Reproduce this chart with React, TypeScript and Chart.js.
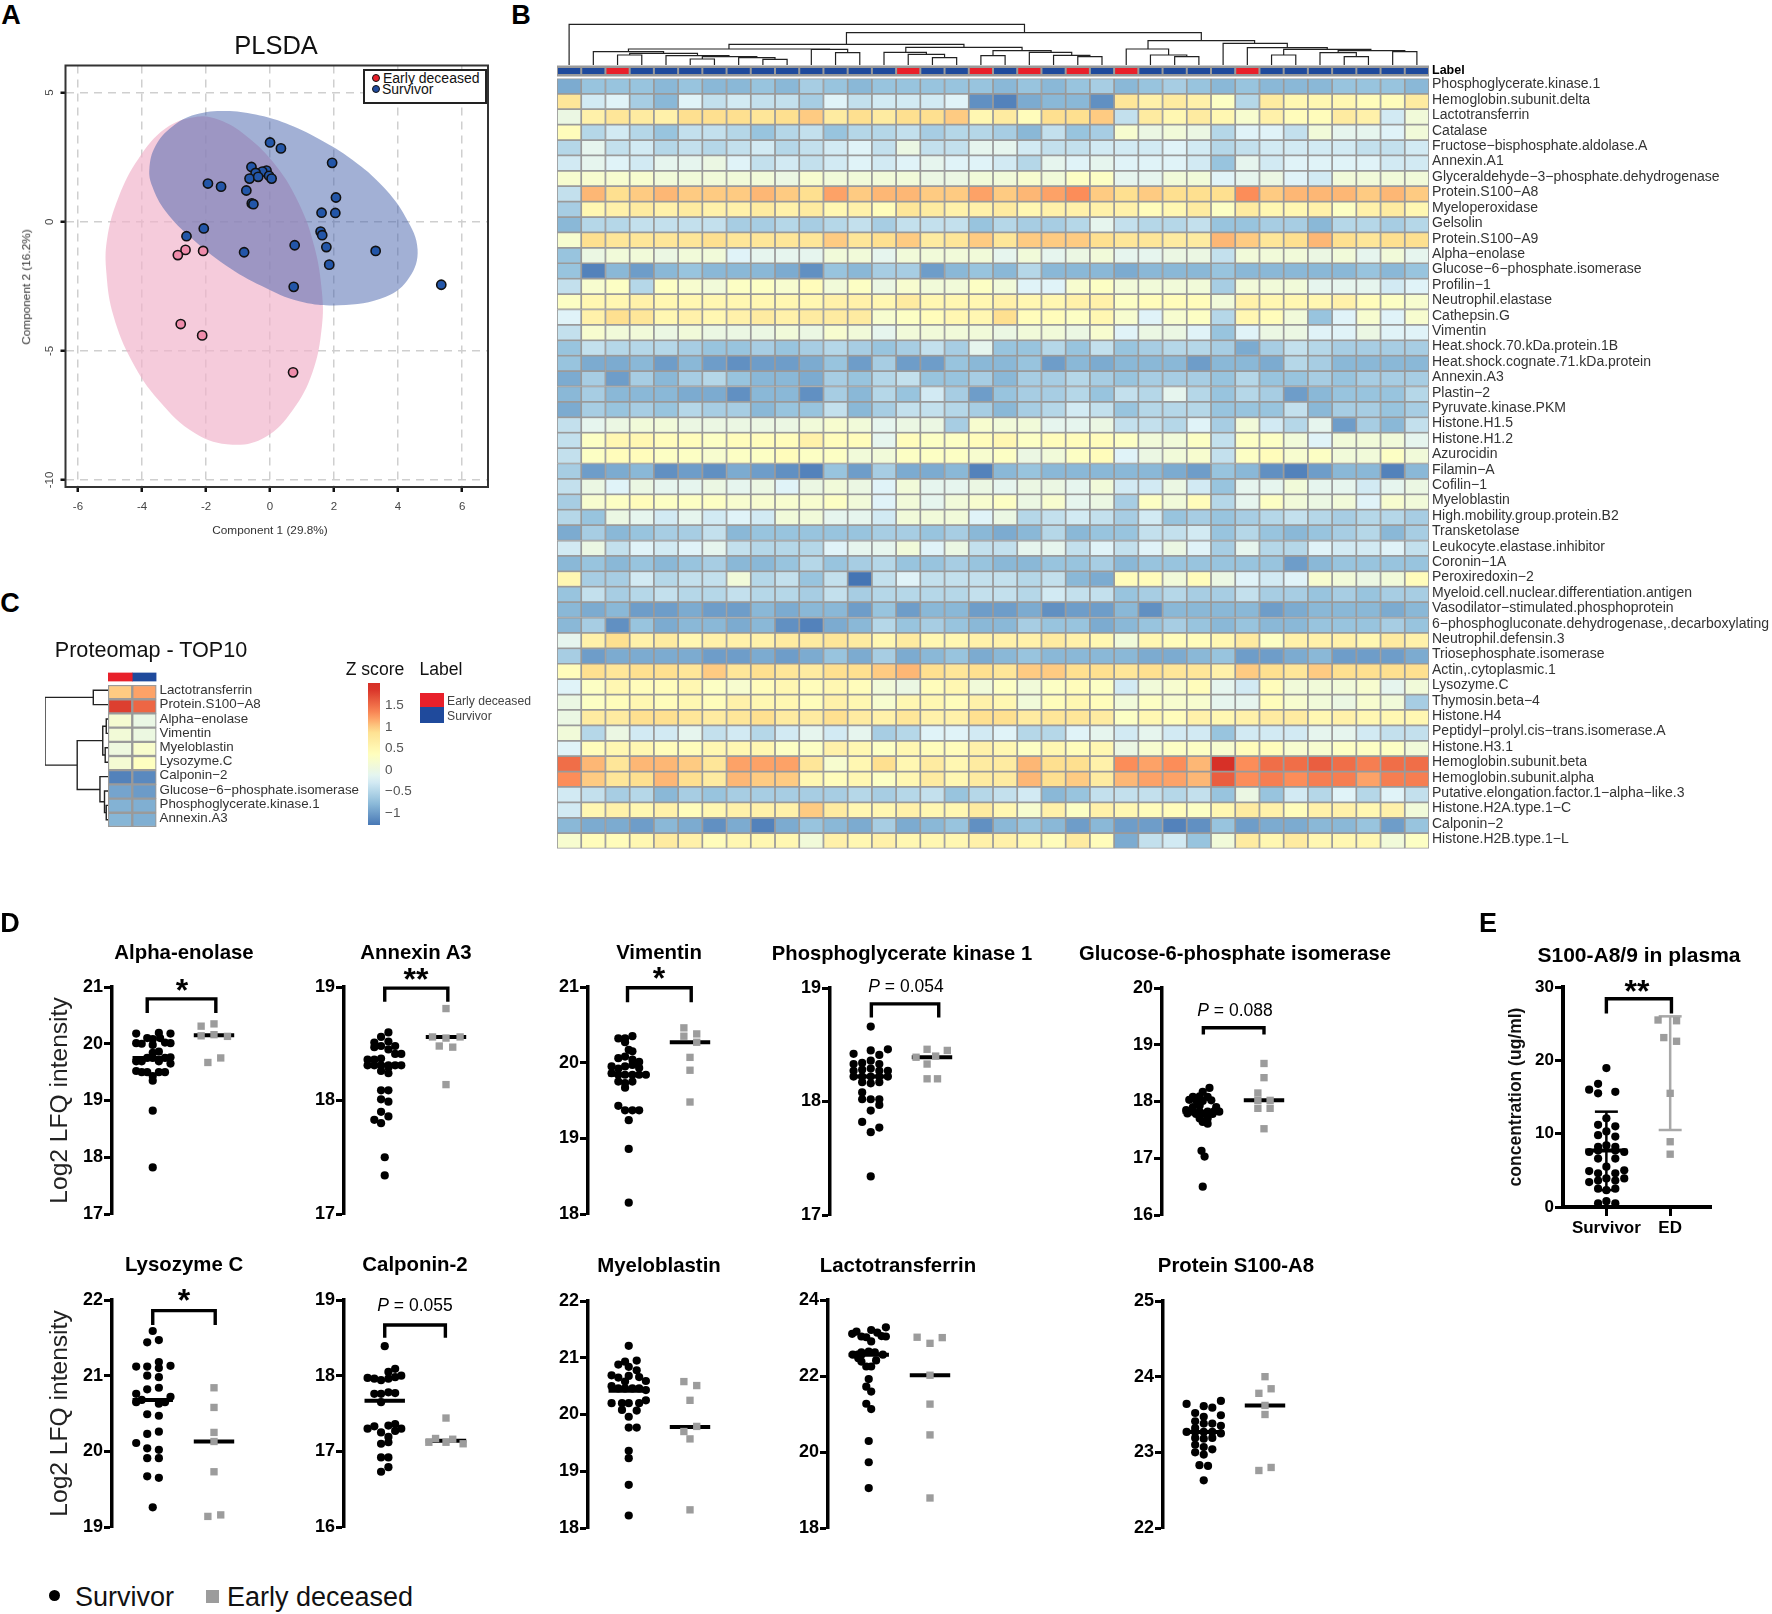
import React, { useEffect, useRef } from "react";
import { Chart, registerables } from "chart.js";

Chart.register(...registerables);
Chart.defaults.font.family = "'Liberation Sans', Arial, sans-serif";
Chart.defaults.animation = false as any;

// ---------- Panel A: PLS-DA ----------
const plsdaSurvivor = [[0, 3.07], [0.34, 2.84], [1.94, 2.28], [-0.58, 2.12], [-0.11, 1.98], [-0.24, 1.94], [-0.45, 1.89], [-0.03, 1.78], [-0.64, 1.67], [-0.37, 1.74], [0.05, 1.67], [-1.94, 1.48], [-1.53, 1.36], [-0.74, 1.21], [2.06, 0.94], [-0.57, 0.71], [-0.52, 0.68], [1.61, 0.35], [2.04, 0.34], [-2.07, -0.26], [1.58, -0.38], [1.63, -0.52], [-2.61, -0.56], [0.77, -0.91], [1.76, -0.98], [-0.81, -1.18], [3.3, -1.13], [1.85, -1.66], [0.74, -2.52], [5.35, -2.44]];
const plsdaEarly = [[-2.64, -1.09], [-2.88, -1.29], [-2.09, -1.13], [-2.79, -3.96], [-2.12, -4.4], [0.72, -5.83]];
const ellipseSurvivor = [[-3.77, 2.05], [-3.58, 2.93], [-3.06, 3.68], [-2.33, 4.15], [-1.39, 4.29], [-0.45, 4.15], [0.49, 3.81], [1.53, 3.2], [2.58, 2.39], [3.52, 1.37], [4.25, 0.15], [4.61, -1.07], [4.35, -2.16], [3.62, -2.9], [2.16, -3.23], [0.91, -3.08], [-0.24, -2.5], [-1.39, -1.68], [-2.43, -0.66], [-3.27, 0.42], [-3.68, 1.37], [-3.77, 2.05]];
const ellipseEarly = [[-2.33, 4.06], [-3.27, 3.61], [-4.1, 2.46], [-4.73, 0.96], [-5.09, -0.66], [-5.11, -2.02], [-4.89, -3.65], [-4.31, -5.41], [-3.48, -6.91], [-2.33, -8.2], [-1.18, -8.63], [-0.14, -8.33], [0.7, -7.31], [1.33, -5.82], [1.62, -4.06], [1.62, -2.7], [1.38, -0.94], [0.91, 0.69], [0.18, 2.18], [-0.76, 3.34], [-1.6, 3.95], [-2.33, 4.06]];
const plsdaXTicks = [-6, -4, -2, 0, 2, 4, 6];
const plsdaYTicks = [-10, -5, 0, 5];

// ---------- Panel B: heat map (z-score x 10) ----------
const sampleGroups = ["S", "S", "E", "S", "S", "S", "S", "S", "S", "S", "S", "S", "S", "S", "E", "S", "S", "E", "S", "E", "S", "E", "S", "E", "S", "S", "S", "S", "E", "S", "S", "S", "S", "S", "S", "S"];
const proteinNames = ["Phosphoglycerate.kinase.1", "Hemoglobin.subunit.delta", "Lactotransferrin", "Catalase", "Fructose−bisphosphate.aldolase.A", "Annexin.A1", "Glyceraldehyde−3−phosphate.dehydrogenase", "Protein.S100−A8", "Myeloperoxidase", "Gelsolin", "Protein.S100−A9", "Alpha−enolase", "Glucose−6−phosphate.isomerase", "Profilin−1", "Neutrophil.elastase", "Cathepsin.G", "Vimentin", "Heat.shock.70.kDa.protein.1B", "Heat.shock.cognate.71.kDa.protein", "Annexin.A3", "Plastin−2", "Pyruvate.kinase.PKM", "Histone.H1.5", "Histone.H1.2", "Azurocidin", "Filamin−A", "Cofilin−1", "Myeloblastin", "High.mobility.group.protein.B2", "Transketolase", "Leukocyte.elastase.inhibitor", "Coronin−1A", "Peroxiredoxin−2", "Myeloid.cell.nuclear.differentiation.antigen", "Vasodilator−stimulated.phosphoprotein", "6−phosphogluconate.dehydrogenase,.decarboxylating", "Neutrophil.defensin.3", "Triosephosphate.isomerase", "Actin,.cytoplasmic.1", "Lysozyme.C", "Thymosin.beta−4", "Histone.H4", "Peptidyl−prolyl.cis−trans.isomerase.A", "Histone.H3.1", "Hemoglobin.subunit.beta", "Hemoglobin.subunit.alpha", "Putative.elongation.factor.1−alpha−like.3", "Histone.H2A.type.1−C", "Calponin−2", "Histone.H2B.type.1−L"];
const zPGK1 = [-9, -7, -7, -7, -8, -7, -8, -8, -7, -8, -6, -7, -8, -7, -7, -7, -7, -7, -8, -7, -8, -7, -6, -8, -7, -6, -7, -8, -7, -8, -8, -8, -7, -7, -7, -8];
const zHBD = [8, -3, -2, -6, -8, -2, -4, -3, -4, -4, -6, -2, -4, -3, -3, -3, -2, -11, -12, -9, -8, -8, -11, 8, 6, 7, 6, 3, -5, 7, 5, 5, 5, 4, 4, 7];
const zLTF = [0, 6, 8, 7, 6, 9, 9, 9, 8, 9, 10, 7, 9, 7, 9, 9, 10, 5, 7, 4, 9, 9, 10, -4, 7, 5, 7, 5, 2, 6, 4, 4, 7, 6, -3, 1];
const zCAT = [4, -5, -3, -5, -7, -4, -4, -5, -7, -5, -4, -7, -5, -5, -4, -6, -5, -5, -6, -8, -4, -7, -6, 2, 0, 1, 0, -5, -2, -2, -4, 1, -1, -1, -2, 1];
const zALDOA = [-5, -1, -4, -3, -5, -4, -5, -4, -3, -5, -4, -3, -2, -4, 0, -4, -4, -1, -1, -3, -4, -4, -3, -3, -3, -2, -3, -5, -4, -3, -3, -3, -3, -4, -4, -3];
const zANXA1 = [-3, -1, -2, -3, -1, -1, 0, -2, -4, -3, -4, -3, -2, -3, -2, -1, -2, -2, -3, -5, -1, -2, -1, -2, -2, -2, -3, -7, -1, -3, -2, -2, -2, -2, -3, -3];
const zGAPDH = [2, 2, 2, 2, 1, 1, 1, 1, 1, 0, 2, 1, 1, 1, 1, 0, 0, 1, 1, 2, 1, 3, 3, -1, -1, 1, 1, -2, -1, 0, -2, -3, 1, 1, 1, 1];
const zS100A8 = [-4, 11, 9, 10, 11, 10, 10, 10, 11, 10, 9, 12, 10, 11, 11, 10, 10, 12, 10, 11, 12, 13, 10, 9, 10, 9, 9, 9, 13, 10, 11, 11, 11, 10, 11, 10];
const zMPO = [-6, 5, 6, 7, 6, 7, 6, 6, 7, 6, 7, 5, 6, 4, 8, 7, 6, 6, 7, 5, 6, 6, 6, 6, 4, 5, 7, 3, 7, 5, 5, 6, 3, 6, 7, 5];
const zGSN = [-8, -5, -5, -4, -4, -4, -4, -6, -6, -5, -6, -5, -4, -6, -4, -4, -4, -7, -5, -6, -6, -5, -1, -4, -5, -5, -4, -7, -7, -6, -6, -8, -5, -5, -6, -5];
const zS100A9 = [2, 9, 8, 8, 8, 8, 9, 8, 8, 8, 8, 10, 8, 9, 10, 7, 8, 10, 8, 10, 10, 10, 9, 8, 8, 7, 7, 11, 10, 8, 9, 11, 9, 8, 9, 9];
const zENO = [-7, 0, 1, 1, 0, 1, 1, -2, -1, -1, -1, 1, 1, -1, 1, 1, 1, 1, -1, 1, -1, 0, 1, -1, -1, 0, 0, -4, 1, 1, 1, 0, 1, -1, 1, -1];
const zG6PI = [-7, -12, -8, -10, -8, -7, -8, -8, -8, -9, -11, -7, -8, -6, -6, -10, -8, -7, -8, -5, -8, -8, -8, -9, -8, -8, -8, -7, -8, -8, -8, -8, -8, -7, -8, -7];
const zPFN1 = [-4, 2, 3, -5, 3, 2, 1, 3, 3, 2, 4, 1, 3, 0, 2, 1, 1, 3, 1, -2, -2, 2, 3, 1, 1, 1, 1, -6, 1, 1, 1, -1, -1, -1, -3, -2];
const zELANE = [3, 5, 5, 6, 5, 5, 5, 5, 5, 5, 5, 6, 6, 5, 7, 5, 5, 5, 6, 5, 5, 6, 6, 3, 4, 4, 4, 1, 6, 5, 5, 5, 6, 4, 3, 2];
const zCTSG = [-2, 6, 9, 8, 5, 6, 5, 6, 7, 6, 7, 7, 7, 2, 3, 4, 5, 5, 9, 4, 4, 3, 5, 2, -2, 2, 3, -5, 5, 4, 1, -7, -2, 2, -2, 2];
const zVIM = [-4, 2, 1, 1, 0, 1, 0, 0, 0, 1, 0, 2, 1, -1, 1, 1, 1, 1, 0, 1, 1, 0, 2, -2, 0, 0, -2, -7, -2, 0, 0, -2, -2, 0, -2, -2];
const zHSP70 = [-7, -4, -5, -5, -5, -6, -7, -7, -6, -7, -6, -5, -6, -7, -6, -4, -6, -1, -7, -7, -5, -7, -4, -7, -6, -5, -5, -6, -9, -6, -4, -5, -6, -6, -6, -6];
const zHSC71 = [-7, -9, -9, -8, -10, -8, -10, -11, -10, -10, -9, -7, -10, -6, -10, -10, -7, -8, -8, -7, -10, -8, -9, -8, -8, -8, -10, -8, -8, -9, -5, -6, -8, -8, -8, -8];
const zANXA3 = [-9, -6, -10, -6, -8, -6, -5, -7, -8, -8, -9, -6, -7, -5, -4, -7, -7, -6, -8, -6, -6, -5, -6, -7, -6, -6, -6, -7, -5, -7, -7, -6, -7, -6, -6, -6];
const zPLS2 = [-8, -6, -8, -8, -8, -9, -9, -11, -8, -8, -11, -6, -8, -5, -7, -3, -6, -10, -7, -6, -6, -5, -7, -4, -5, -1, -5, -7, -5, -6, -10, -8, -7, -7, -7, -5];
const zPKM = [-9, -6, -7, -6, -7, -5, -6, -6, -8, -7, -7, -4, -8, -6, -4, -4, -5, -6, -8, -6, -5, -3, -4, -7, -5, -5, -5, -7, -7, -7, -4, -8, -6, -6, -7, -6];
const zH15 = [-4, -1, 0, 1, 1, 0, 0, 0, 0, 0, 1, 2, 1, -1, 0, 0, -6, 2, 1, 1, -1, -1, 0, -4, -4, -5, -2, -6, 1, -3, -5, -1, -10, -6, -8, -4];
const zH12 = [-4, 3, 5, 5, 4, 4, 3, 4, 4, 4, 6, 4, 4, -1, 4, 3, 3, 4, 5, 3, 4, 4, 4, 3, 1, 1, 3, -4, 3, 3, 1, -2, 1, 1, 1, -1];
const zAZU = [-4, 3, 4, 4, 3, 3, 2, 3, 3, 4, 3, 3, 1, 1, 3, 3, 3, 2, 3, 0, 1, 3, 4, -2, 0, 1, 2, -4, 3, 4, 2, 3, 1, 1, 3, 1];
const zFLNA = [-6, -10, -9, -8, -11, -10, -11, -9, -10, -11, -12, -7, -10, -6, -9, -9, -8, -12, -8, -7, -8, -8, -8, -8, -8, -9, -10, -7, -8, -11, -12, -10, -8, -8, -12, -8];
const zCFL1 = [-4, 0, -2, 0, -1, -1, 0, -1, 0, -2, 0, 1, 0, -2, 1, -1, -1, 0, -1, 0, 0, -1, 1, -3, -3, 0, -3, -7, -1, -1, 1, -1, -1, -3, -1, 0];
const zMYEB = [-6, 2, 3, 4, 3, 3, 3, 2, 2, 2, 2, 3, 1, -2, 1, -1, 1, 2, 3, 0, 2, -1, 0, -6, 3, 1, 4, -5, -1, 3, 1, 0, 1, -2, 2, 1];
const zHMGB2 = [-5, -7, 0, -1, -3, -1, -3, -2, -3, 1, 1, -1, -1, -3, 1, 1, 1, -2, 0, -5, -4, -3, -4, -6, -3, -7, -6, -7, -6, -5, -4, -5, -6, -5, -5, -6];
const zTKT = [-9, -6, -8, -7, -6, -6, -4, -8, -7, -7, -7, -7, -7, -6, -6, -7, -6, -8, -9, -8, -5, -8, -7, -7, -4, -4, -3, -7, -5, -7, -8, -7, -6, -5, -8, -6];
const zLEI = [-3, 0, -4, -2, -3, -2, -1, -4, -5, -5, -5, -2, -1, -1, 1, -2, 0, -4, -4, -1, -1, -4, -2, -4, -2, 0, -2, -6, -1, -5, -5, -2, -3, -3, -2, -4];
const zCORO = [-8, -7, -8, -7, -8, -7, -6, -8, -8, -7, -5, -7, -6, -5, -7, -7, -6, -7, -8, -8, -7, -7, -6, -8, -7, -7, -7, -7, -7, -7, -10, -8, -7, -7, -7, -7];
const zPRDX2 = [5, -6, -6, -3, -5, -4, -4, 1, -5, -4, -7, -4, -13, -4, -2, -4, -4, -4, -4, -5, -4, -8, -9, 4, 4, 1, 4, 0, -2, -3, -2, 2, 1, 0, 1, 4];
const zMNDA = [-7, -4, -6, -5, -4, -5, -5, -4, -5, -5, -6, -4, -6, -5, -5, -5, -5, -4, -4, -5, -3, -4, -4, -7, -6, -5, -6, -6, -4, -6, -6, -7, -6, -7, -6, -6];
const zVASP = [-8, -9, -8, -10, -10, -9, -10, -10, -8, -9, -8, -8, -10, -7, -10, -8, -8, -10, -10, -9, -11, -10, -10, -8, -11, -8, -8, -8, -8, -10, -9, -8, -8, -8, -9, -8];
const zPGD = [-8, -6, -11, -7, -9, -8, -8, -9, -8, -11, -12, -9, -8, -5, -7, -6, -7, -8, -8, -6, -7, -7, -9, -8, -7, -6, -7, -8, -7, -8, -8, -7, -7, -7, -6, -7];
const zDEF3 = [-1, 6, 9, 6, 7, 5, 6, 6, 6, 7, 7, 8, 7, 5, 7, 5, 5, 6, 6, 6, 7, 6, 5, 1, 5, 4, 4, 5, 7, 3, 6, 6, 6, 5, 7, 6];
const zTPI = [-6, -10, -9, -9, -9, -9, -10, -10, -9, -10, -9, -7, -9, -6, -9, -8, -7, -9, -8, -7, -8, -8, -8, -8, -9, -9, -8, -7, -10, -10, -9, -8, -10, -10, -10, -9];
const zACTB = [4, 9, 8, 9, 9, 8, 10, 8, 9, 8, 7, 9, 9, 10, 11, 9, 8, 9, 8, 10, 10, 9, 9, 8, 9, 8, 8, 6, 10, 9, 8, 10, 9, 9, 9, 9];
const zLYZ = [-2, 3, 5, 4, 4, 5, 3, 2, 4, 5, 4, 5, 4, 1, 0, 4, 5, 1, 3, 1, 3, 4, 3, -3, 1, 2, 4, -1, -3, 4, 1, 1, 1, 2, -1, 1];
const zTMSB4 = [0, 3, 4, 5, 4, 5, 4, 6, 5, 5, 4, 6, 5, 2, 5, 5, 4, 6, 5, 1, 4, 5, 4, 1, 3, 2, 2, -1, -1, 4, 2, 1, 0, 2, 1, -6];
const zH4 = [0, 7, 7, 9, 9, 8, 7, 8, 9, 7, 7, 9, 7, 6, 8, 6, 6, 9, 9, 7, 8, 8, 7, 3, 5, 4, 6, 5, 6, 7, 7, 5, 6, 5, 5, 5];
const zPPIA = [1, -5, 0, -3, -3, -1, -4, -3, -5, -3, -1, -3, -1, -6, -5, -2, -2, -3, -2, -5, -5, -2, -1, -3, -1, -3, -3, -7, -3, -3, -3, -1, -1, -3, -4, -4];
const zH31 = [-2, 4, 5, 5, 4, 4, 5, 5, 5, 3, 3, 6, 5, 3, 5, 4, 4, 6, 5, 3, 5, 4, 5, 0, 2, 3, 3, 2, 4, 4, 2, 2, 3, 3, 3, 1];
const zHBB = [15, 11, 8, 11, 11, 10, 8, 12, 12, 12, 8, 2, 5, 9, 5, 7, 5, 7, 7, 11, 9, 9, 6, 13, 12, 13, 11, 19, 13, 15, 15, 16, 15, 14, 15, 15];
const zHBA = [13, 10, 8, 9, 11, 9, 7, 11, 10, 10, 5, 4, 5, 3, 5, 7, 5, 7, 7, 11, 9, 10, 7, 11, 12, 12, 11, 16, 13, 14, 13, 14, 14, 12, 14, 14];
const zEEF1 = [-3, -4, -6, -5, -8, -6, -7, -6, -6, -6, -6, -6, -5, -6, -5, -4, -7, -5, -4, -3, -8, -7, -4, -4, -4, -5, -4, -7, 0, -7, -3, -5, -2, -5, -2, -4];
const zH2A = [-3, 5, 6, 5, 6, 4, 5, 6, 6, 6, 10, 7, 5, 5, 6, 5, 5, 7, 5, 2, 6, 3, 6, 5, 4, 4, 3, 5, 7, 6, 4, 6, 6, 5, 6, 1];
const zCNN2 = [-8, -9, -9, -10, -8, -9, -11, -9, -12, -9, -7, -8, -9, -6, -9, -8, -7, -11, -8, -7, -8, -10, -8, -10, -10, -12, -11, -7, -10, -9, -9, -8, -8, -7, -10, -7];
const zH2B = [2, 4, 4, 5, 7, 6, 4, 5, 5, 5, 1, 6, 5, 6, 5, 5, 5, 6, 6, 5, 4, 7, 4, -9, -4, -3, -7, 1, 7, 5, 7, 5, 5, 5, 1, 3];
const heatRows = [zPGK1, zHBD, zLTF, zCAT, zALDOA, zANXA1, zGAPDH, zS100A8, zMPO, zGSN, zS100A9, zENO, zG6PI, zPFN1, zELANE, zCTSG, zVIM, zHSP70, zHSC71, zANXA3, zPLS2, zPKM, zH15, zH12, zAZU, zFLNA, zCFL1, zMYEB, zHMGB2, zTKT, zLEI, zCORO, zPRDX2, zMNDA, zVASP, zPGD, zDEF3, zTPI, zACTB, zLYZ, zTMSB4, zH4, zPPIA, zH31, zHBB, zHBA, zEEF1, zH2A, zCNN2, zH2B];
// merges: left position, left height, right position, right height, merge height
const sampleMerges = [[9, 0, 10, 0, 17], [8, 0, 9.5, 17, 22], [6, 0, 7, 0, 18], [6.5, 18, 8.75, 22, 25], [5, 0, 7.6, 25, 28], [3, 0, 4, 0, 30], [3.5, 30, 6.3, 28, 35], [2, 0, 4.9, 35, 40], [12, 0, 13, 0, 37], [11, 0, 12.5, 37, 47], [3.45, 40, 11.75, 47, 48], [16, 0, 17, 0, 22], [15, 0, 16.5, 22, 32], [14, 0, 15.75, 32, 38], [22, 0, 23, 0, 25], [21, 0, 22.5, 25, 29], [20, 0, 21.75, 29, 38], [18, 0, 19, 0, 28], [18.5, 28, 20.9, 38, 43], [14.9, 38, 19.7, 43, 53], [7.6, 48, 17.3, 53, 62], [26, 0, 27, 0, 25], [25, 0, 26.5, 25, 30], [24, 0, 25.75, 30, 48], [35, 0, 36, 0, 40], [33, 0, 34, 0, 25], [32, 0, 33.5, 25, 37], [32.75, 37, 35.5, 40, 43], [30, 0, 31, 0, 30], [30.5, 30, 34.1, 43, 47], [29, 0, 32.3, 47, 52], [28, 0, 30.65, 52, 65], [24.9, 48, 29.3, 65, 73], [12.45, 62, 27.1, 73, 97], [1, 0, 19.8, 97, 122]];

// ---------- Panel C ----------
const top10Names = ["Lactotransferrin", "Protein.S100−A8", "Alpha−enolase", "Vimentin", "Myeloblastin", "Lysozyme.C", "Calponin−2", "Glucose−6−phosphate.isomerase", "Phosphoglycerate.kinase.1", "Annexin.A3"];
const top10Early = [1.0, 1.8, 0.18, 0.12, 0.04, 0.16, -1.2, -0.95, -0.85, -0.82];
const top10Survivor = [1.2, 1.55, -0.02, 0.02, 0.22, 0.34, -1.15, -1.02, -0.87, -0.87];
const top10Merges = [[1, 0, 2, 0, 42], [3, 0, 4, 0, 5], [5, 0, 6, 0, 8], [3.5, 5, 5.5, 8, 15], [9, 0, 10, 0, 5], [8, 0, 9.5, 5, 10], [7, 0, 8.75, 10, 23], [4.5, 15, 7.9, 23, 88], [1.5, 42, 6.2, 88, 180]];
const legendTicks = [-1, -0.5, 0, 0.5, 1, 1.5];

// ---------- Panel D: [horizontal offset, log2 LFQ] ----------
const enoSurvivor = [[-.27, 20.18], [.1, 20.19], [.29, 20.18], [-.09, 20.1], [0, 20.08], [.12, 20.1], [-.27, 20.01], [-.18, 20], [0, 19.98], [.2, 20.02], [.29, 20.01], [0, 19.84], [.1, 19.86], [-.09, 19.75], [0, 19.75], [.2, 19.75], [.29, 19.76], [-.27, 19.69], [-.18, 19.69], [.1, 19.69], [.29, 19.65], [-.27, 19.52], [-.18, 19.5], [-.09, 19.5], [.1, 19.5], [.2, 19.5], [0, 19.43], [0, 19.35], [0, 18.82], [0, 17.82]];
const enoEarly = [[-.21, 20.31], [0, 20.35], [-.21, 20.14], [0, 20.16], [.22, 20.13], [.11, 19.75], [-.1, 19.67]];
const anxSurvivor = [[.06, 18.6], [-.06, 18.56], [-.17, 18.51], [.06, 18.52], [-.17, 18.47], [-.06, 18.48], [.17, 18.48], [.06, 18.45], [.17, 18.41], [.27, 18.41], [-.28, 18.36], [-.17, 18.36], [-.06, 18.37], [-.28, 18.31], [-.17, 18.31], [-.06, 18.31], [.06, 18.31], [.17, 18.31], [.27, 18.31], [.06, 18.29], [-.06, 18.26], [.06, 18.24], [-.06, 18.09], [.06, 18.09], [-.06, 18.01], [.06, 17.99], [-.06, 17.9], [.06, 17.86], [-.17, 17.83], [-.06, 17.8], [0, 17.5], [0, 17.34]];
const anxEarly = [[-.22, 18.56], [0, 18.55], [.23, 18.56], [-.11, 18.48], [.11, 18.47], [0, 18.14], [0, 18.81]];
const vimSurvivor = [[.06, 20.35], [-.17, 20.32], [-.06, 20.32], [-.06, 20.27], [0, 20.17], [.06, 20.15], [-.06, 20.08], [-.17, 20.06], [.06, 20.04], [.17, 20.01], [.06, 19.97], [-.28, 19.95], [-.06, 19.95], [.17, 19.93], [-.17, 19.92], [-.28, 19.86], [-.17, 19.84], [-.06, 19.84], [.06, 19.84], [.17, 19.84], [.28, 19.84], [-.17, 19.75], [-.06, 19.73], [.06, 19.75], [-.06, 19.67], [-.17, 19.43], [-.06, 19.37], [.06, 19.37], [.17, 19.37], [0, 19.24], [0, 18.86], [0, 18.15]];
const vimEarly = [[-.1, 20.46], [.11, 20.38], [-.1, 20.35], [.11, 20.27], [0, 20.07], [0, 19.9], [0, 19.48]];
const pgkSurvivor = [[0, 18.66], [.28, 18.46], [0, 18.45], [-.28, 18.42], [.14, 18.41], [-.28, 18.33], [-.14, 18.34], [0, 18.36], [.14, 18.33], [-.28, 18.27], [-.14, 18.28], [0, 18.29], [.14, 18.27], [.28, 18.27], [-.28, 18.22], [-.14, 18.22], [0, 18.22], [.14, 18.22], [.28, 18.22], [-.14, 18.17], [0, 18.16], [.14, 18.17], [-.14, 18.08], [-.14, 18.02], [0, 18.02], [.14, 18.02], [.14, 17.97], [0, 17.92], [-.14, 17.82], [.14, 17.77], [0, 17.73], [0, 17.34]];
const pgkEarly = [[-.08, 18.46], [.25, 18.45], [-.26, 18.39], [.06, 18.4], [-.08, 18.33], [-.08, 18.2], [.09, 18.2]];
const g6piSurvivor = [[.11, 18.24], [0, 18.17], [-.16, 18.08], [-.05, 18.09], [.08, 18.08], [-.22, 18.03], [-.11, 18.02], [0, 18.01], [.14, 18.02], [-.05, 17.93], [-.16, 17.9], [.22, 17.9], [-.27, 17.85], [-.16, 17.82], [-.05, 17.82], [.08, 17.82], [.18, 17.82], [.27, 17.82], [-.25, 17.79], [-.11, 17.78], [.03, 17.78], [.16, 17.78], [-.05, 17.7], [.08, 17.7], [0, 17.64], [.08, 17.61], [-.02, 17.13], [.03, 17.03], [0, 16.5]];
const g6piEarly = [[0, 18.67], [0, 18.42], [-.1, 18.15], [-.1, 18.02], [.1, 18.02], [-.1, 17.88], [.1, 17.88], [0, 17.52]];
const lyzSurvivor = [[0, 21.59], [-.09, 21.44], [.1, 21.47], [-.27, 21.12], [-.09, 21.12], [.1, 21.18], [.29, 21.13], [.1, 21.1], [-.09, 21], [.1, 20.98], [-.09, 20.82], [.1, 20.84], [-.27, 20.76], [.29, 20.72], [-.18, 20.68], [.2, 20.65], [-.27, 20.65], [.1, 20.63], [-.09, 20.49], [.1, 20.47], [.1, 20.26], [-.09, 20.23], [-.27, 20.11], [-.09, 20.04], [.1, 20.02], [-.09, 19.91], [.1, 19.91], [-.09, 19.67], [.1, 19.65], [0, 19.26]];
const lyzEarly = [[0, 20.84], [0, 20.58], [0, 20.25], [0, 20.13], [0, 19.73], [.11, 19.16], [-.1, 19.14]];
const cnnSurvivor = [[0, 18.39], [.17, 18.09], [.06, 18.05], [.27, 18], [-.28, 17.97], [-.17, 17.96], [-.06, 17.94], [.06, 17.96], [.17, 17.98], [-.17, 17.76], [-.06, 17.76], [.06, 17.78], [.17, 17.77], [-.06, 17.65], [-.28, 17.3], [-.17, 17.33], [.06, 17.34], [.17, 17.36], [.27, 17.3], [-.06, 17.25], [.17, 17.27], [.06, 17.19], [-.06, 17.1], [.06, 17.12], [-.06, 16.92], [.06, 16.92], [.06, 16.79], [-.06, 16.73]];
const cnnEarly = [[0, 17.44], [-.17, 17.17], [.11, 17.16], [-.28, 17.12], [0, 17.12], [.28, 17.1]];
const mpoSurvivor = [[0, 21.21], [-.06, 20.93], [.13, 20.95], [-.17, 20.88], [0, 20.84], [.13, 20.78], [-.28, 20.69], [-.17, 20.65], [0, 20.68], [.17, 20.66], [-.06, 20.58], [.28, 20.59], [-.28, 20.5], [-.17, 20.46], [-.06, 20.46], [.06, 20.46], [.17, 20.46], [.28, 20.43], [-.28, 20.2], [-.11, 20.2], [0, 20.2], [.17, 20.2], [.28, 20.25], [-.11, 20.08], [.13, 20.07], [0, 19.96], [0, 19.77], [.13, 19.77], [0, 19.36], [0, 19.23], [0, 18.76], [0, 18.22]];
const mpoEarly = [[-.1, 20.58], [.11, 20.51], [0, 20.25], [.11, 19.79], [-.1, 19.7], [0, 19.57], [0, 18.32]];
const ltfSurvivor = [[.28, 23.28], [-.2, 23.17], [-.27, 23.11], [.04, 23.21], [.14, 23.14], [-.12, 23.04], [-.04, 23.02], [.21, 23.05], [.28, 23.04], [.04, 22.91], [-.12, 22.62], [0, 22.64], [.1, 22.62], [-.26, 22.56], [-.18, 22.56], [-.12, 22.56], [.23, 22.56], [-.17, 22.47], [.12, 22.41], [-.12, 22.38], [-.04, 22.25], [.04, 22.25], [0, 21.92], [-.04, 21.72], [.04, 21.59], [-.04, 21.27], [.04, 21.13], [0, 20.29], [0, 19.73], [0, 19.05]];
const ltfEarly = [[-.21, 23.02], [.2, 23.01], [0, 22.86], [0, 22.02], [0, 21.26], [0, 20.45], [0, 18.79]];
const s100Survivor = [[.28, 23.68], [-.28, 23.64], [0, 23.61], [.14, 23.59], [-.14, 23.52], [.28, 23.49], [0, 23.47], [-.14, 23.41], [0, 23.38], [.14, 23.38], [.28, 23.35], [-.14, 23.32], [-.28, 23.27], [-.14, 23.27], [0, 23.27], [.14, 23.27], [.28, 23.25], [-.14, 23.19], [0, 23.18], [.14, 23.19], [-.14, 23.1], [0, 23.07], [.14, 23.04], [-.14, 23], [0, 22.97], [-.07, 22.83], [.07, 22.82], [0, 22.63]];
const s100Early = [[0, 24], [.1, 23.84], [-.1, 23.78], [0, 23.62], [0, 23.5], [.1, 22.8], [-.1, 22.76]];

// ---------- Panel E ----------
const plasmaSurvivor = [[0, 18.95], [-.13, 16.8], [-.27, 16], [-.13, 15.5], [.14, 15.7], [0, 12.1], [-.13, 11.2], [.14, 11], [0, 10.3], [-.13, 9.8], [.14, 9.6], [0, 8.4], [-.13, 8.2], [.14, 8.2], [-.27, 7.5], [-.13, 7.7], [.14, 7.7], [.28, 7.5], [-.13, 6.6], [.14, 6.6], [0, 5.5], [-.27, 4.9], [-.13, 4.6], [.14, 4.6], [.28, 5], [-.27, 3.4], [-.13, 3.6], [0, 3.9], [.14, 3.6], [.28, 3.9], [-.13, 2.5], [.14, 2.5], [0, 2.3], [-.13, .5], [.14, .5], [0, .8]];
const plasmaEarly = [[-.19, 25.5], [.1, 25.4], [-.1, 23.1], [.1, 22.6], [0, 15.5], [0, 8.9], [0, 7.2]];

const BLACK = "#000";
const GREY = "#9c9c9c";
const HEAT_GRID = "#9a9a9a";
const RED = "#e8202a";
const BLUE = "#1f4a9c";

const colorStops: [number, number[]][] = [[-1.3, [69, 117, 180]], [-0.75, [145, 191, 219]], [-0.2, [224, 243, 248]], [0.35, [255, 255, 191]], [0.9, [254, 224, 144]], [1.3, [252, 141, 89]], [1.9, [215, 48, 39]]];
function zColor(z: number) {
  const v = Math.max(-1.3, Math.min(1.9, z));
  for (let i = 0; i < colorStops.length - 1; i++) {
    const [a, ca] = colorStops[i];
    const [b, cb] = colorStops[i + 1];
    if (v <= b) {
      const t = (v - a) / (b - a);
      return `rgb(${ca.map((c, k) => Math.round(c + (cb[k] - c) * t)).join(",")})`;
    }
  }
  return "rgb(215,48,39)";
}

const pts = (rows: number[][]) => rows.map(([x, y]) => ({ x, y }));
const loopPts = (rows: number[][]) => pts([rows[rows.length - 2], ...rows, rows[1]]);
const hideScale = (extra: any = {}) => ({ type: "linear", display: false, grid: { display: false }, ...extra });

function treeSegments(merges: number[][]) {
  const out: any[] = [];
  merges.forEach(([p1, h1, p2, h2, h]) => {
    out.push({ x: p1, y: h1 }, { x: p1, y: h }, { x: p2, y: h }, { x: p2, y: h2 }, { x: null, y: null });
  });
  return out;
}

function CanvasChart({ x, y, w, h, config }: any) {
  const ref = useRef<HTMLCanvasElement>(null);
  useEffect(() => {
    const chart = new Chart(ref.current as any, config());
    return () => chart.destroy();
  }, []);
  return <canvas ref={ref} width={w} height={h} style={{ position: "absolute", left: x, top: y, width: w, height: h }} />;
}

function Txt({ x, y, size, bold, color = "#111", align = "center", rot = 0, children }: any) {
  const tx = align === "center" ? "-50%" : "0";
  return (
    <div style={{ position: "absolute", left: x, top: y, transform: `translate(${tx},-50%) rotate(${rot}deg)`, fontFamily: "'Liberation Sans', Arial, sans-serif", fontSize: size, fontWeight: bold ? 700 : 400, color, whiteSpace: "nowrap", lineHeight: 1 }}>
      {children}
    </div>
  );
}

// ---------- Chart builders ----------
function plsdaConfig() {
  const frame = {
    id: "frame",
    afterDraw(c: any) {
      const a = c.chartArea;
      c.ctx.save();
      c.ctx.strokeStyle = "#333";
      c.ctx.lineWidth = 2;
      c.ctx.strokeRect(a.left, a.top, a.right - a.left, a.bottom - a.top);
      c.ctx.restore();
    },
  };
  const axis = (values: number[], min: number, max: number, extra: any, tickPad: number) => ({
    type: "linear",
    min,
    max,
    ticks: { color: "#444", font: { size: 11.5 }, padding: tickPad, ...extra, callback: (v: number) => String(v) },
    afterBuildTicks: (s: any) => { s.ticks = values.map((value) => ({ value })); },
    grid: { color: "#cfcfcf", lineWidth: 1.5, tickColor: "#111", tickLength: 5, tickWidth: 2.5, tickBorderDash: [] },
    border: { display: false, dash: [8, 6] },
  });
  return {
    type: "scatter",
    plugins: [frame],
    data: {
      datasets: [
        { label: "Survivor", data: pts(plsdaSurvivor), pointRadius: 4.6, borderWidth: 1.6, borderColor: "#111", backgroundColor: "#2356a8" },
        { label: "Early deceased", data: pts(plsdaEarly), pointRadius: 4.6, borderWidth: 1.6, borderColor: "#111", backgroundColor: "#ef8cab" },
        { label: "Survivor region", data: loopPts(ellipseSurvivor), showLine: true, fill: "shape", tension: 0.4, pointRadius: 0, borderWidth: 0, borderColor: "transparent", backgroundColor: "rgba(70,98,172,0.5)" },
        { label: "Early deceased region", data: loopPts(ellipseEarly), showLine: true, fill: "shape", tension: 0.4, pointRadius: 0, borderWidth: 0, borderColor: "transparent", backgroundColor: "rgba(240,178,202,0.68)" },
      ],
    },
    options: {
      responsive: false, animation: false,
      layout: { padding: { top: 15.5, right: 12, bottom: 6, left: 0 } },
      plugins: { legend: { display: false }, tooltip: { enabled: false } },
      scales: {
        x: { ...axis(plsdaXTicks, -6.39, 6.81, {}, 8), afterFit: (s: any) => { s.height = 52; } },
        y: { ...axis(plsdaYTicks, -10.27, 6.05, { minRotation: 90, maxRotation: 90, crossAlign: "center" }, 2), afterFit: (s: any) => { s.width = 65.5; } },
      },
    },
  };
}

function heatConfig(rows: number[][], names: string[], cols: number, border: number, fontSize: number, axisW: number, padRight: number) {
  return {
    type: "bar",
    data: {
      labels: names,
      datasets: Array.from({ length: cols }, (_, c) => ({
        label: `Sample ${c + 1}`,
        data: rows.map(() => 1),
        backgroundColor: rows.map((r) => zColor(r[c])),
        borderColor: HEAT_GRID, borderWidth: border, borderSkipped: false, barPercentage: 1, categoryPercentage: 1,
      })),
    },
    options: {
      indexAxis: "y", responsive: false, animation: false,
      layout: { padding: { top: 9, bottom: 11, left: 0, right: padRight } },
      plugins: { legend: { display: false }, tooltip: { enabled: false } },
      scales: {
        x: hideScale({ stacked: true, min: 0, max: cols }),
        y: {
          stacked: true, position: "right", grid: { display: false, drawTicks: false, tickLength: 0 }, border: { display: false },
          ticks: { autoSkip: false, padding: 3, labelOffset: -1.5, color: "#333", font: { size: fontSize } },
          afterFit: (s: any) => { s.width = axisW; },
        },
      },
    },
  };
}

function annotationConfig(groups: string[], label: string, axisW: number, padRight: number, gap: number, pct: number) {
  const backing = {
    id: "backing",
    beforeDatasetsDraw(c: any) {
      if (!gap) return;
      const a = c.chartArea;
      c.ctx.save();
      c.ctx.fillStyle = HEAT_GRID;
      c.ctx.fillRect(a.left, a.top, a.right - a.left, a.bottom - a.top);
      c.ctx.restore();
    },
  };
  return {
    type: "bar",
    plugins: [backing],
    data: {
      labels: [label],
      datasets: groups.map((g, i) => ({
        label: `Sample ${i + 1}`,
        data: [1],
        backgroundColor: g === "E" ? RED : BLUE,
        borderColor: HEAT_GRID, borderWidth: { left: gap, right: gap, top: 0, bottom: 0 }, borderSkipped: false, barPercentage: pct, categoryPercentage: 1,
      })),
    },
    options: {
      indexAxis: "y", responsive: false, animation: false,
      layout: { padding: { top: 10, bottom: 10, left: 0, right: padRight } },
      plugins: { legend: { display: false }, tooltip: { enabled: false } },
      scales: {
        x: hideScale({ stacked: true, min: 0, max: groups.length }),
        y: { stacked: true, position: "right", grid: { display: false, drawTicks: false, tickLength: 0 }, border: { display: false },
          ticks: { padding: 3, color: "#000", font: { size: 12.5, weight: "bold" } },
          afterFit: (s: any) => { s.width = axisW; } },
      },
    },
  };
}

function sampleTreeConfig() {
  return {
    type: "scatter",
    data: { datasets: [{ label: "Samples", data: treeSegments(sampleMerges), showLine: true, tension: 0, pointRadius: 0, borderColor: "#222", borderWidth: 1.2, clip: false }] },
    options: {
      responsive: false, animation: false,
      layout: { padding: 0 },
      plugins: { legend: { display: false }, tooltip: { enabled: false } },
      scales: { x: hideScale({ min: 0.5, max: 36.5 }), y: hideScale({ min: 0, max: 126 }) },
    },
  };
}

function rowTreeConfig() {
  const rows = treeSegments(top10Merges).map((p) => ({ x: p.y, y: p.x }));
  return {
    type: "scatter",
    data: { datasets: [{ label: "Proteins", data: rows, showLine: true, tension: 0, pointRadius: 0, borderColor: "#222", borderWidth: 1.4, clip: false }] },
    options: {
      responsive: false, animation: false,
      layout: { padding: 0 },
      plugins: { legend: { display: false }, tooltip: { enabled: false } },
      scales: { x: hideScale({ min: 0, max: 180, reverse: true }), y: hideScale({ min: 0.5, max: 10.5, reverse: true }) },
    },
  };
}

function colorbarConfig() {
  const fill = (ctx: any) => {
    const area = ctx.chart.chartArea;
    if (!area) return "#fff";
    const s = ctx.chart.scales.y;
    const g = ctx.chart.ctx.createLinearGradient(0, s.getPixelForValue(-1.28), 0, s.getPixelForValue(2.02));
    for (let i = 0; i <= 20; i++) {
      const z = -1.28 + (3.3 * i) / 20;
      g.addColorStop(i / 20, zColor(z));
    }
    return g;
  };
  return {
    type: "bar",
    data: { labels: ["Z score"], datasets: [{ label: "Z score", data: [[-1.28, 2.02]], backgroundColor: fill, barPercentage: 1, categoryPercentage: 1, borderWidth: 0 }] },
    options: {
      responsive: false, animation: false,
      layout: { padding: { top: 10, bottom: 10, left: 0, right: 50 } },
      plugins: { legend: { display: false }, tooltip: { enabled: false } },
      scales: {
        x: { display: false, grid: { display: false } },
        y: {
          position: "right", min: -1.28, max: 2.02, grid: { display: false, drawTicks: false, tickLength: 0 }, border: { display: false },
          afterBuildTicks: (s: any) => { s.ticks = legendTicks.map((value) => ({ value })); },
          ticks: { padding: 5, color: "#555", font: { size: 13.5 }, callback: (v: number) => String(v).replace("-", "−") },
          afterFit: (s: any) => { s.width = 50; },
        },
      },
    },
  };
}

const BOX_L = 100, PLOT_W = 151, BOX_T = 75, BOX_B = 20, X_MIN = 0.335, X_MAX = 2.8;

function dotConfig(p: any) {
  const lines = [
    ...(p.bracket ? [[[p.bracket[0], p.bracket[3]], [p.bracket[0], p.bracket[2]], [p.bracket[1], p.bracket[2]], [p.bracket[1], p.bracket[3]]]] : []),
    [[0.67, p.medS], [1.33, p.medS]],
    [[1.67, p.medE], [2.33, p.medE]],
  ];
  return {
    type: "scatter",
    data: {
      datasets: [
        { label: "Early deceased", data: p.early.map(([d, y]: number[]) => ({ x: 2 + d, y })), pointStyle: "rect", pointRadius: 5.2, borderWidth: 0, backgroundColor: GREY },
        { label: "Survivor", data: p.surv.map(([d, y]: number[]) => ({ x: 1 + d, y })), pointRadius: 4.1, borderWidth: 0, backgroundColor: BLACK },
        ...lines.map((l, i) => ({ label: `line ${i}`, data: pts(l), showLine: true, pointRadius: 0, borderColor: BLACK, borderWidth: i === 0 && p.bracket ? 3.4 : 4, tension: 0, clip: false })),
      ],
    },
    options: {
      responsive: false, animation: false,
      layout: { padding: { top: BOX_T, bottom: BOX_B, left: 0, right: 10 } },
      plugins: { legend: { display: false }, tooltip: { enabled: false } },
      scales: {
        x: hideScale({ min: X_MIN, max: X_MAX }),
        y: {
          type: "linear", min: p.yMin, max: p.yMax,
          grid: { display: true, drawOnChartArea: false, drawTicks: true, tickLength: 8, tickWidth: 3, tickColor: BLACK },
          border: { display: true, color: BLACK, width: 3.5 },
          ticks: { stepSize: p.step, padding: 1, color: BLACK, font: { size: 18, weight: "bold" } },
          title: p.yTitle ? { display: true, text: "Log2 LFQ intensity", color: "#222", font: { size: 24.6 }, padding: { top: 33, bottom: 0 } } : { display: false },
          afterFit: (s: any) => { s.width = BOX_L; },
        },
      },
    },
  };
}

const dotPanels = [
  { axis: 112, top: 987, bottom: 1214, yMin: 17, yMax: 21, step: 1, surv: enoSurvivor, early: enoEarly, medS: 19.75, medE: 20.15, bracket: [0.91, 2.03, 20.79, 20.54], yTitle: true },
  { axis: 344, top: 987, bottom: 1214, yMin: 17, yMax: 19, step: 1, surv: anxSurvivor, early: anxEarly, medS: 18.31, medE: 18.56, bracket: [1, 2.03, 18.99, 18.87] },
  { axis: 588, top: 987, bottom: 1214, yMin: 18, yMax: 21, step: 1, surv: vimSurvivor, early: vimEarly, medS: 19.84, medE: 20.27, bracket: [0.98, 2.02, 20.99, 20.8] },
  { axis: 830, top: 988, bottom: 1215, yMin: 17, yMax: 19, step: 1, surv: pgkSurvivor, early: pgkEarly, medS: 18.22, medE: 18.39, bracket: [1.01, 2.11, 18.86, 18.74] },
  { axis: 1162, top: 988, bottom: 1215, yMin: 16, yMax: 20, step: 1, surv: g6piSurvivor, early: g6piEarly, medS: 17.82, medE: 18.02, bracket: [1.01, 2, 19.3, 19.18] },
  { axis: 112, top: 1300, bottom: 1527, yMin: 19, yMax: 22, step: 1, surv: lyzSurvivor, early: lyzEarly, medS: 20.68, medE: 20.13, bracket: [1, 2.02, 21.86, 21.67], yTitle: true },
  { axis: 344, top: 1300, bottom: 1527, yMin: 16, yMax: 19, step: 1, surv: cnnSurvivor, early: cnnEarly, medS: 17.67, medE: 17.14, bracket: [1, 1.99, 18.67, 18.5] },
  { axis: 588, top: 1301, bottom: 1528, yMin: 18, yMax: 22, step: 1, surv: mpoSurvivor, early: mpoEarly, medS: 20.42, medE: 19.78 },
  { axis: 828, top: 1300, bottom: 1528, yMin: 18, yMax: 24, step: 2, surv: ltfSurvivor, early: ltfEarly, medS: 22.56, medE: 22.02 },
  { axis: 1163, top: 1301, bottom: 1528, yMin: 22, yMax: 25, step: 1, surv: s100Survivor, early: s100Early, medS: 23.27, medE: 23.62 },
];

function plasmaConfig() {
  const seg = (rows: number[][], color: string, width: number, i: number) => ({ label: `line ${i}`, data: pts(rows), showLine: true, pointRadius: 0, borderColor: color, borderWidth: width, tension: 0, clip: false });
  return {
    type: "scatter",
    data: {
      datasets: [
        { label: "ED", data: plasmaEarly.map(([d, y]) => ({ x: 2 + d, y })), pointStyle: "rect", pointRadius: 5.2, borderWidth: 0, backgroundColor: GREY },
        { label: "Survivor", data: plasmaSurvivor.map(([d, y]) => ({ x: 1 + d, y })), pointRadius: 4.1, borderWidth: 0, backgroundColor: BLACK, clip: false },
        seg([[1, 26.4], [1, 28.4], [2.02, 28.4], [2.02, 26.4]], BLACK, 3.4, 0),
        seg([[1, 2.3], [1, 13]], BLACK, 2.5, 1),
        seg([[0.82, 13], [1.18, 13]], BLACK, 2.5, 2),
        seg([[0.82, 2.3], [1.18, 2.3]], BLACK, 2.5, 3),
        seg([[0.67, 7.7], [1.33, 7.7]], BLACK, 4, 4),
        seg([[2, 10.5], [2, 26]], "#a8a8a8", 2.5, 5),
        seg([[1.82, 26], [2.18, 26]], "#a8a8a8", 2.5, 6),
        seg([[1.82, 10.5], [2.18, 10.5]], "#a8a8a8", 2.5, 7),
      ],
    },
    options: {
      responsive: false, animation: false,
      layout: { padding: { top: BOX_T, bottom: 5, left: 0, right: 10 } },
      plugins: { legend: { display: false }, tooltip: { enabled: false } },
      scales: {
        x: {
          type: "linear", min: 0.32, max: 2.64,
          afterBuildTicks: (s: any) => { s.ticks = [{ value: 1 }, { value: 2 }]; },
          grid: { drawOnChartArea: false, tickLength: 9, tickWidth: 3, tickColor: BLACK },
          border: { display: true, color: BLACK, width: 4 },
          ticks: { padding: 2, color: BLACK, font: { size: 17, weight: "bold" }, callback: (v: number) => (v === 1 ? "Survivor" : "ED") },
          afterFit: (s: any) => { s.height = 38; },
        },
        y: {
          type: "linear", min: 0, max: 30,
          grid: { drawOnChartArea: false, tickLength: 8, tickWidth: 3, tickColor: BLACK },
          border: { display: true, color: BLACK, width: 4 },
          ticks: { stepSize: 10, padding: 1, color: BLACK, font: { size: 17, weight: "bold" } },
          title: { display: true, text: "concentration (ug/ml)", color: "#111", font: { size: 17.5, weight: "bold" }, padding: { top: 43, bottom: 0 } },
          afterFit: (s: any) => { s.width = BOX_L; },
        },
      },
    },
  };
}

const panelTitles: [string, number, number, number][] = [["Alpha-enolase", 184, 952, 20.4], ["Annexin A3", 416, 952, 20.4], ["Vimentin", 659, 952, 20.4], ["Phosphoglycerate kinase 1", 902, 953, 20.2], ["Glucose-6-phosphate isomerase", 1235, 953, 20.2], ["S100-A8/9 in plasma", 1639, 954, 21], ["Lysozyme C", 184, 1264, 20.4], ["Calponin-2", 415, 1264, 20.4], ["Myeloblastin", 659, 1265, 20.4], ["Lactotransferrin", 898, 1265, 20.4], ["Protein S100-A8", 1236, 1265, 20.4]];
const stars: [string, number, number][] = [["*", 182, 990], ["**", 416, 979], ["*", 659, 978], ["*", 184, 1300], ["**", 1637, 991]];
const pValues: [string, number, number][] = [["0.054", 906, 987], ["0.088", 1235, 1011], ["0.055", 415, 1306]];
const panelLetters: [string, number, number][] = [["A", 11, 15], ["B", 521, 15], ["C", 10, 603], ["D", 10, 923], ["E", 1488, 923]];

export default function App() {
  return (
    <div style={{ position: "absolute", left: 0, top: 0, width: 1772, height: 1614, background: "#fff", overflow: "hidden" }}>
      <CanvasChart x={0} y={50} w={500} h={495} config={plsdaConfig} />

      <CanvasChart x={557} y={23} w={872} h={42} config={sampleTreeConfig} />
      <CanvasChart x={557} y={55} w={1215} h={32} config={() => annotationConfig(sampleGroups, "Label", 340, 3, 1, 0.55)} />
      <CanvasChart x={557} y={67} w={1215} h={793} config={() => heatConfig(heatRows.map((r) => r.map((v) => v / 10)), proteinNames, 36, 1.2, 14.02, 340, 3)} />

      <CanvasChart x={45} y={683} w={63} h={144} config={rowTreeConfig} />
      <CanvasChart x={108} y={662} w={60} h={30} config={() => annotationConfig(["E", "S"], "", 2, 9.5, 0, 1)} />
      <CanvasChart x={108} y={674} w={290} h={164} config={() => heatConfig(top10Names.map((_, i) => [top10Early[i], top10Survivor[i]]), top10Names, 2, 1.5, 13.35, 235, 6.5)} />
      <CanvasChart x={368} y={670} w={112} h={168} config={colorbarConfig} />

      {dotPanels.map((p, i) => (
        <CanvasChart key={i} x={p.axis - BOX_L} y={p.top - BOX_T} w={BOX_L + PLOT_W + 10} h={p.bottom - p.top + BOX_T + BOX_B} config={() => dotConfig(p)} />
      ))}
      <CanvasChart x={1463} y={912} w={258} h={338} config={plasmaConfig} />

      {panelLetters.map(([t, x, y]) => <Txt key={t} x={x} y={y} size={27} bold color="#000">{t}</Txt>)}
      <Txt x={276} y={46} size={25.5}>PLSDA</Txt>
      <Txt x={270} y={531} size={11.8} color="#333">Component 1 (29.8%)</Txt>
      <Txt x={27} y={287} size={11.8} color="#333" rot={-90}>Component 2 (16.2%)</Txt>
      <div style={{ position: "absolute", left: 363, top: 69, width: 120, height: 31, border: "2px solid #222", background: "#fff" }} />
      <div style={{ position: "absolute", left: 372, top: 74, width: 6, height: 6, borderRadius: 4, background: "#e8202a", border: "1px solid #111" }} />
      <div style={{ position: "absolute", left: 372, top: 85, width: 6, height: 6, borderRadius: 4, background: "#1f4a9c", border: "1px solid #111" }} />
      <Txt x={383} y={78} size={14} align="left">Early deceased</Txt>
      <Txt x={382} y={89} size={14} align="left">Survivor</Txt>

      <Txt x={151} y={650} size={21.6}>Proteomap - TOP10</Txt>
      <Txt x={375} y={670} size={17.6}>Z score</Txt>
      <Txt x={441} y={670} size={17.6}>Label</Txt>
      <div style={{ position: "absolute", left: 420, top: 693, width: 24, height: 14, background: RED }} />
      <div style={{ position: "absolute", left: 420, top: 707, width: 24, height: 16, background: BLUE }} />
      <Txt x={447} y={701} size={12.2} align="left" color="#444">Early deceased</Txt>
      <Txt x={447} y={716} size={12.2} align="left" color="#444">Survivor</Txt>

      {panelTitles.map(([t, x, y, s]) => <Txt key={t} x={x} y={y} size={s} bold color="#000">{t}</Txt>)}
      {stars.map(([t, x, y], i) => <Txt key={i} x={x} y={y} size={32} bold color="#000">{t}</Txt>)}
      {pValues.map(([t, x, y]) => <Txt key={t} x={x} y={y} size={17.5} color="#000"><i>P</i> = {t}</Txt>)}

      <div style={{ position: "absolute", left: 49, top: 1590, width: 11, height: 11, borderRadius: 6, background: "#000" }} />
      <Txt x={75} y={1597} size={27} align="left" color="#111">Survivor</Txt>
      <div style={{ position: "absolute", left: 206, top: 1590, width: 13, height: 13, background: GREY }} />
      <Txt x={227} y={1597} size={27} align="left" color="#111">Early deceased</Txt>
    </div>
  );
}
